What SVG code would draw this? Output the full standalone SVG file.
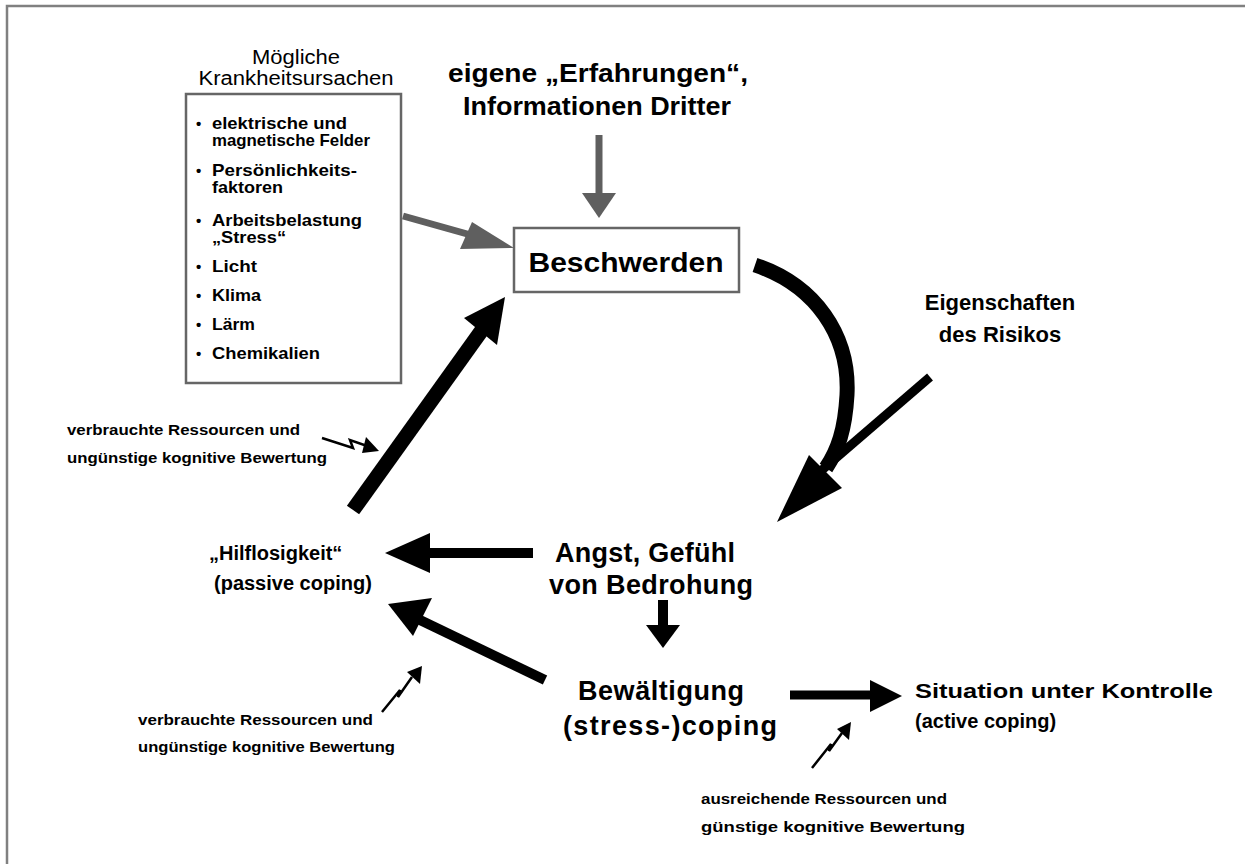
<svg xmlns="http://www.w3.org/2000/svg" width="1245" height="864" viewBox="0 0 1245 864">
  <style>
    .t { font-family: "Liberation Sans", Arial, sans-serif; font-weight: bold; fill: #000; }
    .thin { font-family: "Liberation Sans", Arial, sans-serif; font-weight: normal; fill: #000; }
    .box { fill: #fff; stroke: #666; stroke-width: 2.5; }
    .gray { stroke: #5f5f5f; fill: none; }
    .black { stroke: #000; fill: none; }
    .head-g { fill: #5f5f5f; }
    .head-b { fill: #000; }
    .dot { font-size: 15px; }
  </style>
  <rect width="1245" height="864" fill="#fff"/>
  <!-- outer frame -->
  <rect x="7" y="6" width="1260" height="880" fill="none" stroke="#808080" stroke-width="2.5"/>

  <g id="causes">
    <text class="thin" x="296" y="64" font-size="20" text-anchor="middle" textLength="88" lengthAdjust="spacingAndGlyphs">Mögliche</text>
    <text class="thin" x="296" y="85" font-size="20" text-anchor="middle" textLength="195" lengthAdjust="spacingAndGlyphs">Krankheitsursachen</text>
    <rect class="box" x="186" y="94" width="215" height="289"/>
    <g class="t" font-size="16.5">
      <text class="dot" x="196" y="129">•</text><text x="212" y="129" textLength="135" lengthAdjust="spacingAndGlyphs">elektrische und</text>
      <text x="212" y="146" textLength="158" lengthAdjust="spacingAndGlyphs">magnetische Felder</text>
      <text class="dot" x="196" y="176">•</text><text x="212" y="176" textLength="145" lengthAdjust="spacingAndGlyphs">Persönlichkeits-</text>
      <text x="212" y="193" textLength="71" lengthAdjust="spacingAndGlyphs">faktoren</text>
      <text class="dot" x="196" y="226">•</text><text x="212" y="226" textLength="150" lengthAdjust="spacingAndGlyphs">Arbeitsbelastung</text>
      <text x="212" y="243" textLength="74" lengthAdjust="spacingAndGlyphs">„Stress“</text>
      <text class="dot" x="196" y="272">•</text><text x="212" y="272" textLength="45" lengthAdjust="spacingAndGlyphs">Licht</text>
      <text class="dot" x="196" y="301">•</text><text x="212" y="301" textLength="49" lengthAdjust="spacingAndGlyphs">Klima</text>
      <text class="dot" x="196" y="330">•</text><text x="212" y="330" textLength="43" lengthAdjust="spacingAndGlyphs">Lärm</text>
      <text class="dot" x="196" y="359">•</text><text x="212" y="359" textLength="108" lengthAdjust="spacingAndGlyphs">Chemikalien</text>
    </g>
  </g>

  <g id="experience">
    <text class="t" x="598" y="82" font-size="25" text-anchor="middle" textLength="300" lengthAdjust="spacingAndGlyphs">eigene „Erfahrungen“,</text>
    <text class="t" x="597" y="115" font-size="25" text-anchor="middle" textLength="268" lengthAdjust="spacingAndGlyphs">Informationen Dritter</text>
  </g>

  <g id="beschwerden">
    <rect class="box" x="514" y="228" width="225" height="64"/>
    <text class="t" x="626" y="272" font-size="28" text-anchor="middle" textLength="195" lengthAdjust="spacingAndGlyphs">Beschwerden</text>
  </g>

  <g id="risk">
    <text class="t" x="1000" y="310" font-size="22" text-anchor="middle">Eigenschaften</text>
    <text class="t" x="1000" y="342" font-size="22" text-anchor="middle">des Risikos</text>
  </g>

  <g id="angst">
    <text class="t" x="645" y="562" font-size="27" text-anchor="middle" textLength="180" lengthAdjust="spacing">Angst, Gefühl</text>
    <text class="t" x="651" y="594" font-size="27" text-anchor="middle" textLength="204" lengthAdjust="spacing">von Bedrohung</text>
  </g>

  <g id="hilflosigkeit">
    <text class="t" x="209" y="560" font-size="20">„Hilflosigkeit“</text>
    <text class="t" x="214" y="590" font-size="20">(passive coping)</text>
  </g>

  <g id="bewaeltigung">
    <text class="t" x="661" y="700" font-size="27" text-anchor="middle" textLength="166" lengthAdjust="spacing">Bewältigung</text>
    <text class="t" x="670" y="735" font-size="27" text-anchor="middle" textLength="214" lengthAdjust="spacing">(stress-)coping</text>
  </g>

  <g id="kontrolle">
    <text class="t" x="915" y="698" font-size="21" textLength="298" lengthAdjust="spacingAndGlyphs">Situation unter Kontrolle</text>
    <text class="t" x="915" y="728" font-size="20">(active coping)</text>
  </g>

  <g id="notes" class="t" font-size="15.5">
    <text x="67" y="435" textLength="233" lengthAdjust="spacingAndGlyphs">verbrauchte Ressourcen und</text>
    <text x="67" y="463" textLength="260" lengthAdjust="spacingAndGlyphs">ungünstige kognitive Bewertung</text>
    <text x="138" y="725" textLength="235" lengthAdjust="spacingAndGlyphs">verbrauchte Ressourcen und</text>
    <text x="138" y="752" textLength="257" lengthAdjust="spacingAndGlyphs">ungünstige kognitive Bewertung</text>
    <text x="701" y="804" textLength="246" lengthAdjust="spacingAndGlyphs">ausreichende Ressourcen und</text>
    <text x="701" y="832" textLength="264" lengthAdjust="spacingAndGlyphs">günstige kognitive Bewertung</text>
  </g>

  <g id="connectors">
    <!-- gray inputs into Beschwerden -->
    <line class="gray" x1="599" y1="135" x2="599" y2="196" stroke-width="7"/>
    <polygon class="head-g" points="582,193 616,193 599,218"/>
    <line class="gray" x1="403" y1="216" x2="478" y2="237" stroke-width="7"/>
    <polygon class="head-g" points="472,222 514,248 460,249"/>

    <!-- curved arrow Beschwerden -> Angst, joined by the risk arrow -->
    <path class="black" d="M 755 265 C 815 285 850 335 847 395 C 845 430 838 450 826 468" stroke-width="15"/>
    <line class="black" x1="930" y1="377" x2="822" y2="470" stroke-width="9"/>
    <polygon class="head-b" points="809,455 842,488 777,522"/>

    <!-- Hilflosigkeit -> Beschwerden -->
    <line class="black" x1="353" y1="510" x2="482" y2="330" stroke-width="15"/>
    <polygon class="head-b" points="464,318 505,297 497,345"/>

    <!-- Angst -> Hilflosigkeit -->
    <line class="black" x1="533" y1="553" x2="425" y2="553" stroke-width="10"/>
    <polygon class="head-b" points="430,533 430,573 385,553"/>

    <!-- Angst -> Bewältigung -->
    <line class="black" x1="663" y1="600" x2="663" y2="630" stroke-width="10"/>
    <polygon class="head-b" points="646,625 680,625 663,648"/>

    <!-- Bewältigung -> Hilflosigkeit -->
    <line class="black" x1="545" y1="680" x2="420" y2="620" stroke-width="10"/>
    <polygon class="head-b" points="432,598 413,636 388,604"/>

    <!-- Bewältigung -> Kontrolle -->
    <line class="black" x1="790" y1="695" x2="875" y2="695" stroke-width="9"/>
    <polygon class="head-b" points="870,680 870,712 902,696"/>

    <!-- lightning arrows -->
    <polyline class="black" points="322,438 353,448 350,440 370,447" stroke-width="2.5"/>
    <polygon class="head-b" points="366,437 379,451 362,453"/>
    <polyline class="black" points="382,712 400,690 398,697 412,677" stroke-width="2.5"/>
    <polygon class="head-b" points="407,672 422,666 420,684"/>
    <polyline class="black" points="812,768 831,744 829,751 842,733" stroke-width="2.5"/>
    <polygon class="head-b" points="837,729 851,722 849,740"/>
  </g>
</svg>
